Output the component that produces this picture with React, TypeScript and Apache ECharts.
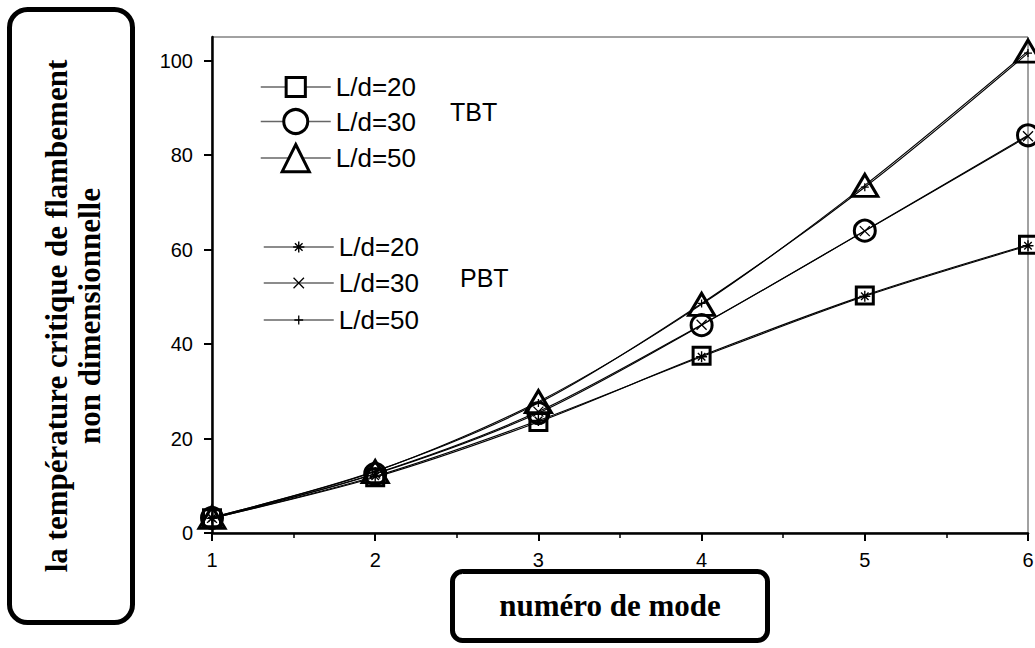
import React, { useEffect, useRef } from "react";
import * as echarts from "echarts";

// ---- data ----
const modes = [1, 2, 3, 4, 5, 6];
const tbt20 = [3.1, 11.8, 23.5, 37.5, 50.3, 61.0];
const tbt30 = [3.2, 12.5, 25.4, 44.0, 64.0, 84.2];
const tbt50 = [3.3, 13.0, 27.8, 48.4, 73.6, 102.0];
const pbt20 = [3.1, 12.0, 23.8, 37.3, 50.1, 60.8];
const pbt30 = [3.2, 12.6, 25.7, 44.1, 63.9, 84.0];
const pbt50 = [3.3, 13.1, 27.5, 48.6, 73.2, 101.6];
const yTicks = [0, 20, 40, 60, 80, 100];
const seriesNames = [
  "TBT L/d=20",
  "TBT L/d=30",
  "TBT L/d=50",
  "PBT L/d=20",
  "PBT L/d=30",
  "PBT L/d=50",
];
const groupLabels = ["TBT", "PBT"];
const xTitle = "numéro de mode";
const yTitle = "la température critique de flambement\nnon dimensionnelle";

// ---- styling ----
const SANS = "'Liberation Sans', Arial, sans-serif";
const SERIF = "'Liberation Serif', 'Times New Roman', serif";
const SYM_ASTER = "path://M5,0L5,10M0,5L10,5M1.6,1.6L8.4,8.4M8.4,1.6L1.6,8.4";
const SYM_X = "path://M0,0L10,10M10,0L0,10";
const SYM_PLUS = "path://M5,0L5,10M0,5L10,5";

const seriesStyles = [
  { data: tbt20, symbol: "rect", size: 17, bw: 3, legendH: 24, fill: "#fff" },
  { data: tbt30, symbol: "circle", size: 21, bw: 3, legendH: 30, fill: "#fff" },
  { data: tbt50, symbol: "triangle", size: [26, 22], bw: 3, legendH: 34, fill: "#fff" },
  { data: pbt20, symbol: SYM_ASTER, size: 11, bw: 1.4, legendH: 14, fill: "transparent" },
  { data: pbt30, symbol: SYM_X, size: 10, bw: 1.3, legendH: 13, fill: "transparent" },
  { data: pbt50, symbol: SYM_PLUS, size: 8, bw: 1.3, legendH: 11, fill: "transparent" },
];
const legendLeft = [260, 260, 260, 263, 263, 263];
const legendCenterY = [87, 123, 160, 247, 283, 320];
const LEGEND_FONT = 26;

export default function App() {
  const ref = useRef<HTMLDivElement>(null);
  useEffect(() => {
    if (!ref.current) return;
    const chart = echarts.init(ref.current, null, { renderer: "svg" });

    const series = seriesStyles.map((s, i) => ({
      type: "line",
      name: seriesNames[i],
      data: modes.map((m, k) => [m, s.data[k]]),
      smooth: 0.3,
      symbol: s.symbol,
      symbolSize: s.size,
      showSymbol: true,
      lineStyle: { color: "#000", width: 1.1 },
      itemStyle: { color: "transparent", borderColor: "#000", borderWidth: s.bw },
      emphasis: { disabled: true },
      z: 2 + i,
    }));

    const legend = seriesStyles.map((s, i) => ({
      data: [seriesNames[i]],
      orient: "vertical",
      left: legendLeft[i],
      top: legendCenterY[i] - Math.max(s.legendH, LEGEND_FONT) / 2,
      padding: 0,
      itemWidth: 70,
      itemHeight: s.legendH,
      selectedMode: false,
      formatter: (n: string) => n.replace(/^(TBT|PBT) /, ""),
      textStyle: { fontSize: LEGEND_FONT, color: "#000", fontFamily: SANS },
      itemStyle: { color: s.fill, borderColor: "#000", borderWidth: s.bw },
      lineStyle: { color: "#666", width: 1.5 },
    }));

    chart.setOption({
      animation: false,
      backgroundColor: "#fff",
      grid: {
        left: 212,
        right: 7,
        top: 37,
        bottom: 115,
        show: true,
        borderColor: "#444",
        borderWidth: 1,
        backgroundColor: "transparent",
        containLabel: false,
        outerBoundsMode: "none",
      },
      xAxis: {
        type: "value",
        min: 1,
        max: 6,
        interval: 1,
        axisLine: { show: true, onZero: false, lineStyle: { color: "#000", width: 2.5 } },
        axisTick: { show: true, length: 8, lineStyle: { color: "#000", width: 2 } },
        minorTick: { show: true, splitNumber: 2, length: 5, lineStyle: { color: "#000", width: 1.5 } },
        splitLine: { show: false },
        axisLabel: { fontSize: 20, color: "#000", fontFamily: SANS, margin: 17 },
      },
      yAxis: {
        type: "value",
        min: 0,
        max: 105,
        interval: 20,
        axisLine: { show: true, onZero: false, lineStyle: { color: "#000", width: 2.5 } },
        axisTick: { show: true, length: 8, customValues: yTicks, lineStyle: { color: "#000", width: 2 } },
        splitLine: { show: false },
        axisLabel: { fontSize: 20, color: "#000", fontFamily: SANS, margin: 19, customValues: yTicks },
      },
      legend,
      series,
      graphic: [
        {
          type: "rect",
          z: 100,
          shape: { x: 9.5, y: 9.5, width: 123, height: 613, r: 18 },
          style: { fill: "#fff", stroke: "#000", lineWidth: 5 },
        },
        {
          type: "text",
          z: 101,
          x: 73,
          y: 316,
          rotation: Math.PI / 2,
          style: {
            text: yTitle,
            fontFamily: SERIF,
            fontWeight: "bold",
            fontSize: 31,
            lineHeight: 33,
            align: "center",
            verticalAlign: "middle",
            fill: "#000",
          },
        },
        {
          type: "rect",
          z: 100,
          shape: { x: 452.5, y: 571.5, width: 315, height: 69, r: 10 },
          style: { fill: "#fff", stroke: "#000", lineWidth: 5 },
        },
        {
          type: "text",
          z: 101,
          x: 610,
          y: 605,
          style: {
            text: xTitle,
            fontFamily: SERIF,
            fontWeight: "bold",
            fontSize: 31,
            align: "center",
            verticalAlign: "middle",
            fill: "#000",
          },
        },
        {
          type: "text",
          z: 101,
          x: 450,
          y: 112,
          style: { text: groupLabels[0], fontFamily: SANS, fontSize: 25, verticalAlign: "middle", fill: "#000" },
        },
        {
          type: "text",
          z: 101,
          x: 460,
          y: 278,
          style: { text: groupLabels[1], fontFamily: SANS, fontSize: 25, verticalAlign: "middle", fill: "#000" },
        },
      ],
    });
    return () => chart.dispose();
  }, []);
  return (
    <div
      ref={ref}
      style={{ position: "fixed", left: 0, top: 0, width: 1035, height: 648, background: "#fff" }}
    />
  );
}
